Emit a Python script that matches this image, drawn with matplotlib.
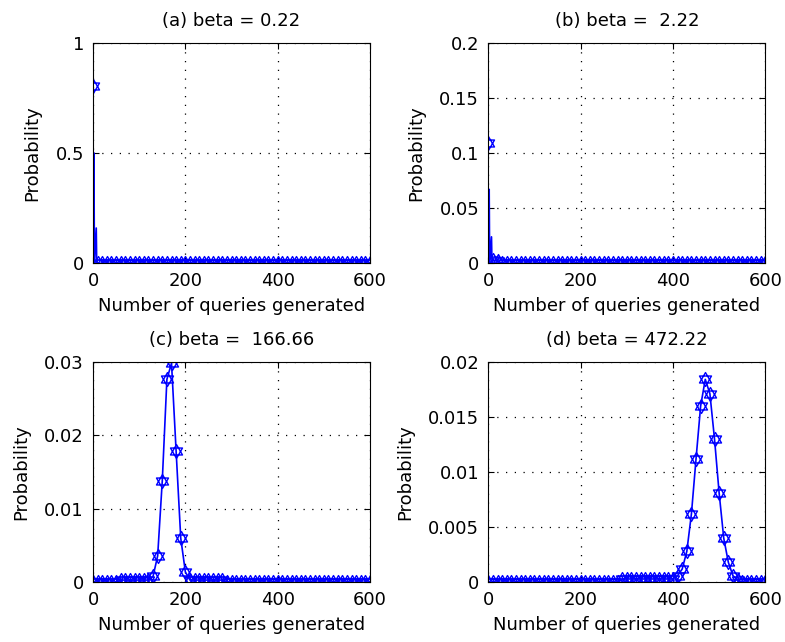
import numpy as np
import matplotlib
matplotlib.use("Agg")
import matplotlib.pyplot as plt
from matplotlib.path import Path
from matplotlib.ticker import FuncFormatter

plt.rcParams['font.family'] = ['DejaVu Sans']

# number of queries, sampled every 10
queries = np.arange(0, 610, 10)

# probability at each sampled query count
prob_a = [0.804] + [0.0] * 60
prob_b = [0.109, 0.003, 0.002] + [0.0] * 58
prob_c = ([0.0] * 6 + [0.0003] * 6 +
          [0.0003, 0.0008, 0.0036, 0.0138, 0.0276, 0.0298, 0.0178, 0.0060, 0.0014, 0.0003] +
          [0.0003] * 7 + [0.0] * 32)
prob_d = ([0.0] * 29 + [0.0003] * 12 +
          [0.0006, 0.0012, 0.0028, 0.0062, 0.0112, 0.0160, 0.0184, 0.0171, 0.0130,
           0.0081, 0.0040, 0.0018, 0.0006, 0.0002] +
          [0.0] * 6)

# finer curve near the origin for the two small beta cases
head_x = [0, 2, 3, 7, 8]
head_a = [0.0, 0.5, 0.0, 0.16, 0.0]
head_b = [0.0, 0.067, 0.0, 0.024, 0.0]

titles = ['(a) beta = 0.22', '(b) beta =  2.22', '(c) beta =  166.66', '(d) beta = 472.22']
yticks = [[0, 0.5, 1], [0, 0.05, 0.1, 0.15, 0.2], [0, 0.01, 0.02, 0.03],
          [0, 0.005, 0.01, 0.015, 0.02]]

# six-pointed star marker (two overlapping triangles)
s = np.sqrt(3) / 2
hexagram = Path([(0, 1), (-s, -0.5), (s, -0.5), (0, 1),
                 (0, -1), (s, 0.5), (-s, 0.5), (0, -1)],
                [Path.MOVETO, Path.LINETO, Path.LINETO, Path.CLOSEPOLY,
                 Path.MOVETO, Path.LINETO, Path.LINETO, Path.CLOSEPOLY])

fig = plt.figure(figsize=(7.85, 6.42), dpi=100)
rects = [[0.1185, 0.5899, 0.3529, 0.3436], [0.622, 0.5899, 0.3529, 0.3436],
         [0.1185, 0.093, 0.3529, 0.3436], [0.622, 0.093, 0.3529, 0.3436]]

series = [prob_a, prob_b, prob_c, prob_d]
heads = [head_a, head_b, None, None]

for i in range(4):
    ax = fig.add_axes(rects[i])
    y = series[i]
    if heads[i] is not None:
        lx = list(head_x) + list(queries[1:])
        ly = list(heads[i]) + list(y[1:])
        ax.plot(lx, ly, color='blue', lw=1.2)
        ax.plot(queries, y, linestyle='none', marker=hexagram, ms=10,
                mfc='none', mec='blue', mew=1.0)
    else:
        ax.plot(queries, y, color='blue', lw=1.2, marker=hexagram, ms=10,
                mfc='none', mec='blue', mew=1.0)
    ax.set_xlim(0, 600)
    ax.set_ylim(yticks[i][0], yticks[i][-1])
    ax.set_xticks([0, 200, 400, 600])
    ax.set_yticks(yticks[i])
    ax.yaxis.set_major_formatter(FuncFormatter(lambda v, p: '%g' % v))
    ax.grid(True, color='black', linestyle=(0, (1, 6)), linewidth=0.9)
    ax.tick_params(direction='in', top=True, right=True, length=4,
                   labelsize=13, pad=6.5, width=0.8)
    for sp in ax.spines.values():
        sp.set_linewidth(0.8)
    ax.set_title(titles[i], fontsize=13, pad=12)
    ax.set_xlabel('Number of queries generated', fontsize=13, labelpad=5)
    ax.set_ylabel('Probability', fontsize=13, labelpad=10)

fig.savefig('out.png', dpi=100)
